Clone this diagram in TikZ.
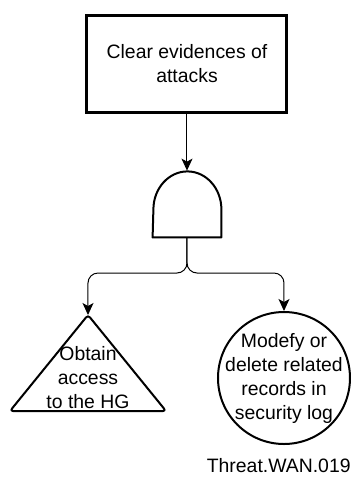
\documentclass[tikz,border=0pt]{standalone}
\usepackage{fontspec}
\setmainfont{Liberation Sans}
\usetikzlibrary{arrows.meta}

\begin{document}
\begin{tikzpicture}[x=0.5pt, y=-0.5pt,
    every node/.style={font=\fontsize{9.7}{12}\selectfont, align=center, inner sep=0pt},
    goalbox/.style={draw, line width=1.5pt, minimum width=100pt, minimum height=48.5pt},
    leafcirc/.style={draw, circle, line width=1pt, minimum size=66pt},
    gateline/.style={line width=1pt, line join=round},
    conn/.style={line width=0.5pt, rounded corners=5pt, -{Stealth[length=6pt, width=5.5pt, inset=1.5pt]}}]
    % Frame to fix the page size
    \useasboundingbox (0,0) rectangle (353,479);
    % Top event
    \node[goalbox] (goal) at (187,63.5) {Clear evidences of\\attacks};
    % AND gate
    \node[minimum width=34pt, minimum height=33pt] (gate) at (187,204) {};
    \draw[gateline] (gate.south west) -- (gate.south east) -- ++(0,14pt)
         arc[start angle=0, end angle=180, x radius=17pt, y radius=19pt] -- cycle;
    \draw[conn] (goal.south) -- (gate.north);
    % Left leaf: triangle
    \coordinate (obtaintop) at (88,315);
    \draw[gateline, rounded corners=1.5pt] (10,411) -- (obtaintop) -- (166,411) -- cycle;
    \node (obtain) at (88,377.5) {Obtain\\access\\to the HG};
    % Right leaf: circle
    \node[leafcirc] (modify) at (284,378) {};
    \node (modifytext) at (modify.center) {Modefy or\\delete related\\records in\\security log};
    % Branches
    \coordinate (split) at (187,273);
    \draw[conn] (gate.south) -- (split) -| (obtaintop);
    \draw[conn] (gate.south) -- (split) -| (modify.north);
    % Threat id
    \node[anchor=east] (threatid) at (351,466) {Threat.WAN.019};
\end{tikzpicture}
\end{document}
